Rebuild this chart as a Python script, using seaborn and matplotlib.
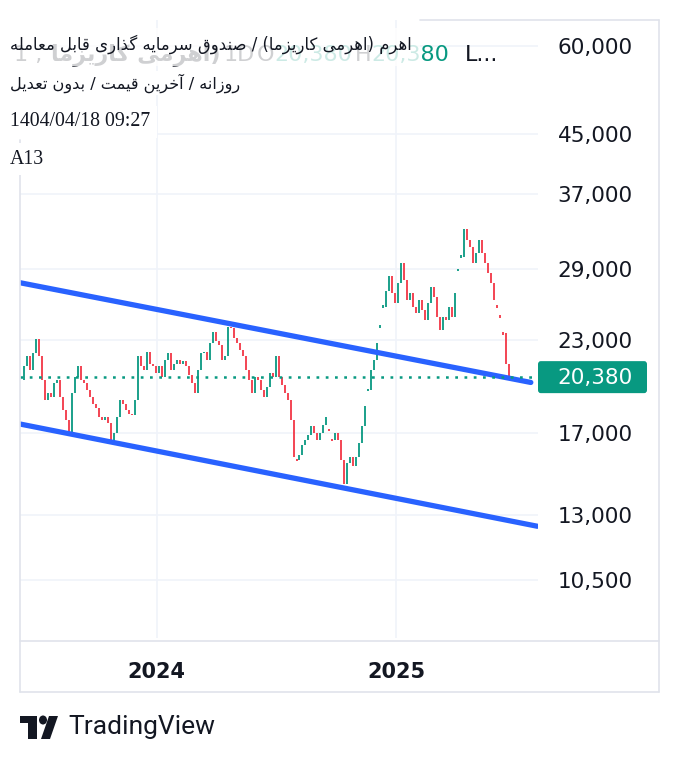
import matplotlib
matplotlib.use("Agg")
import matplotlib.pyplot as plt
import matplotlib.patches as mpatches
from matplotlib.lines import Line2D
from matplotlib.ticker import FuncFormatter, NullLocator
import pandas as pd
import seaborn as sns

# ---------- Data ---------- #

# daily closes, one per bar (rial)
closes = [
    20200, 21100, 21800, 20850, 22030, 23100, 21800, 20200, 18900, 19340,
    19100, 20000, 20200, 19100, 18300, 17700, 17000, 19340, 20400, 21100,
    20200, 20000, 19550, 19100, 18700, 18400, 17900, 17700, 17900, 17550,
    16400, 16970, 17900, 18900, 18700, 18300, 18100, 18000, 18900, 21800,
    21100, 20850, 22150, 21300, 21100, 20640, 21100, 20400, 21560, 22030,
    20850, 21300, 21560, 21300, 21450, 21100, 20500, 20000, 19340, 20850,
    22030, 22150, 21560, 22750, 23650, 22900, 22600, 21560, 21800, 24030,
    23900, 23130, 22750, 22260, 21800, 20850, 20200, 19340, 20400, 20200,
    19550, 19100, 19760, 20640, 20400, 21800, 20400, 19870, 19340, 18900,
    17700, 15730, 15560, 15800, 16340, 16600, 16900, 17350, 16970, 16600,
    16970, 17450, 17900, 17150, 16600, 16970, 16600, 15560, 14400, 15400,
    15730, 15230, 15730, 16430, 17350, 18520, 19550, 20850, 21560, 22750,
    24030, 25650, 27000, 28300, 26790, 25930, 27680, 29600, 27980, 26210,
    26790, 25650, 25100, 26210, 25380, 24560, 25930, 27380, 26500, 24830,
    23770, 24830, 24560, 25650, 24830, 26790, 28900, 30200, 33000, 31880,
    31190, 29530, 30520, 31880, 30520, 29530, 28590, 27680, 26210, 25650,
    24830, 23510, 21300, 20380,
]
# bars that traded at the daily limit (drawn as short ticks)
limit_days = [92, 103, 104, 116, 120, 121, 146, 147, 159, 160, 161]

last_price = 20380
price_ticks = [10500, 13000, 17000, 23000, 29000, 37000, 45000, 60000]
year_ticks = [45.3, 125.3]
year_labels = ["2024", "2025"]

# hand-drawn channel (bar index, price)
upper_bars = [-0.4, 170.3]
upper_prices = [27730, 20030]
lower_bars = [-0.4, 172.5]
lower_prices = [17490, 12530]

title = "اهرم (اهرمی کاریزما) / صندوق سرمایه گذاری قابل معامله"
subtitle = "روزانه / آخرین قیمت / بدون تعدیل"
ghost_name = "(اهرمی کاریزما"
timestamp = "1404/04/18 09:27"
symbol_code = "A13"

UP = "#089981"
DOWN = "#F23645"
BLUE = "#2962FF"
GRID = "#F0F3FA"
BORDER = "#E0E3EB"
INK = "#131722"


# ---------- Small Persian shaper (matplotlib has no bidi/joining) ---------- #

DUAL = {"ب": 0xFE8F, "ت": 0xFE95, "خ": 0xFEA5, "س": 0xFEB1, "ص": 0xFEB9,
        "ع": 0xFEC9, "ق": 0xFED5, "ل": 0xFEDD, "م": 0xFEE1, "ن": 0xFEE5,
        "ه": 0xFEE9, "ک": 0xFB8E, "گ": 0xFB92, "ی": 0xFBFC}
RIGHT = {"ا": 0xFE8D, "آ": 0xFE81, "د": 0xFEA9, "ذ": 0xFEAB, "ر": 0xFEAD,
         "ز": 0xFEAF, "و": 0xFEED}
MIRROR = {"(": ")", ")": "("}


def shape_rtl(text):
    out = []
    for k, c in enumerate(text):
        prev = text[k - 1] if k > 0 else ""
        nxt = text[k + 1] if k + 1 < len(text) else ""
        if c in DUAL:
            jp = prev in DUAL
            jn = nxt in DUAL or nxt in RIGHT
            off = 3 if (jp and jn) else 1 if jp else 2 if jn else 0
            out.append(chr(DUAL[c] + off))
        elif c in RIGHT:
            out.append(chr(RIGHT[c] + (1 if prev in DUAL else 0)))
        else:
            out.append(MIRROR.get(c, c))
    return "".join(reversed(out))


# ---------- Figure ---------- #

sns.set_theme(style="white")
plt.rcParams["font.family"] = ["DejaVu Sans"]

W, H = 678, 764
fig = plt.figure(figsize=(W / 100, H / 100), dpi=100)
fig.patch.set_facecolor("white")


def fx(x):
    return x / W


def fy(y):
    return 1 - y / H


ax = fig.add_axes([fx(20), fy(638), (538 - 20) / W, (638 - 20) / H])
ax.set_facecolor("white")

# candles
bars = list(range(len(closes)))
opens = [closes[0]] + closes[:-1]
lows, highs, colors = [], [], []
for i, c in enumerate(closes):
    o = opens[i]
    colors.append(UP if c >= o else DOWN)
    if i in limit_days:
        lows.append(c * 0.996)
        highs.append(c * 1.004)
    else:
        lows.append(min(o, c))
        highs.append(max(o, c))
ax.vlines(bars, lows, highs, colors=colors, lw=1.3, zorder=3)

# channel lines
sns.lineplot(x=upper_bars, y=upper_prices, ax=ax, color=BLUE, lw=3.8,
             solid_capstyle="round", zorder=4)
sns.lineplot(x=lower_bars, y=lower_prices, ax=ax, color=BLUE, lw=3.8,
             solid_capstyle="round", zorder=4)

# last price line
ax.axhline(last_price, color=UP, lw=1.8, ls=(0, (1.1, 2.6)), zorder=5)

ax.set_yscale("log")
ax.set_ylim(8703, 65330)
ax.set_xlim(-0.4, 172.7)
ax.set_yticks(price_ticks)
ax.yaxis.set_minor_locator(NullLocator())
ax.yaxis.set_major_formatter(FuncFormatter(lambda v, _: f"{v:,.0f}"))
ax.yaxis.tick_right()
ax.tick_params(axis="y", length=0, pad=14, labelsize=15.5, labelcolor=INK)
ax.set_xticks(year_ticks)
ax.set_xticklabels(year_labels, fontweight="bold")
ax.tick_params(axis="x", length=0, pad=17, labelsize=15, labelcolor=INK)
ax.grid(True, color=GRID, lw=1.2, zorder=0)
ax.set_axisbelow(True)
for s in ax.spines.values():
    s.set_visible(False)
ax.set_xlabel("")
ax.set_ylabel("")

# price label on the axis
fig.canvas.draw()
_, ly = ax.transData.transform((0, last_price))
ly = H - ly
fig.patches.append(mpatches.FancyBboxPatch(
    (fx(538), fy(ly + 16)), fx(109), 32 / H, boxstyle="round,pad=0,rounding_size=0.004",
    transform=fig.transFigure, fc=UP, ec="none"))
fig.text(fx(557), fy(ly + 1), f"{last_price:,}", color="white", fontsize=15.5,
         va="center", ha="left")

# frame lines
for (x0, y0, x1, y1) in [(420, 20, 659, 20), (659, 20, 659, 692),
                         (20, 140, 20, 692), (20, 641, 659, 641),
                         (20, 692, 659, 692)]:
    fig.lines.append(Line2D([fx(x0), fx(x1)], [fy(y0), fy(y1)],
                            transform=fig.transFigure, color=BORDER, lw=1.2))

# ghost legend under the title (veiled by a translucent white strip)
gy = 55
ghost = dict(fontsize=16, va="center", zorder=3)
fig.text(fx(14), fy(gy), "1 ,", color=INK, **ghost)
fig.text(fx(220), fy(gy), shape_rtl(ghost_name), color=INK, ha="right",
         fontweight="bold", **ghost)
fig.text(fx(224), fy(gy), "1D", color=INK, **ghost)
fig.text(fx(257), fy(gy), "O", color=INK, **ghost)
fig.text(fx(274), fy(gy), "20,380", color=UP, **ghost)
fig.text(fx(355), fy(gy), "H", color=INK, **ghost)
fig.text(fx(371), fy(gy), "20,380", color=UP, **ghost)
fig.text(fx(465), fy(gy), "L...", color=INK, **ghost)
veil = mpatches.Rectangle((0, fy(66)), fx(420), 38 / H, transform=fig.transFigure,
                          fc="white", ec="none", alpha=0.8, zorder=3.5)
fig.add_artist(veil)

# header texts
fig.text(fx(412), fy(44), shape_rtl(title), color=INK, fontsize=11.9,
         ha="right", va="center", zorder=4)
fig.text(fx(240), fy(83), shape_rtl(subtitle), color=INK, fontsize=11.6,
         ha="right", va="center", zorder=4,
         bbox=dict(fc="white", ec="none", pad=2))
fig.text(fx(10), fy(122), timestamp, color=INK, fontsize=14.3,
         family="Liberation Serif", va="center", zorder=4,
         bbox=dict(fc="white", ec="none", pad=5))
fig.text(fx(10), fy(159), symbol_code, color=INK, fontsize=14.3,
         family="Liberation Serif", va="center", zorder=4,
         bbox=dict(fc="white", ec="none", pad=5))

# TradingView mark
logo = [
    mpatches.Rectangle((fx(20), fy(723)), fx(17), 7 / H),
    mpatches.Rectangle((fx(28), fy(739)), fx(9), 23 / H),
    mpatches.Circle((fx(43), fy(720)), 4 / W),
    mpatches.Polygon([(fx(49), fy(716)), (fx(58), fy(716)),
                      (fx(50), fy(739)), (fx(41), fy(739))]),
]
for p in logo:
    p.set_transform(fig.transFigure)
    p.set_facecolor(INK)
    p.set_edgecolor("none")
    fig.patches.append(p)
fig.text(fx(68), fy(727), "TradingView", color=INK, fontsize=19,
         family="Roboto", va="center")

fig.savefig("out.png", dpi=100, facecolor="white")
